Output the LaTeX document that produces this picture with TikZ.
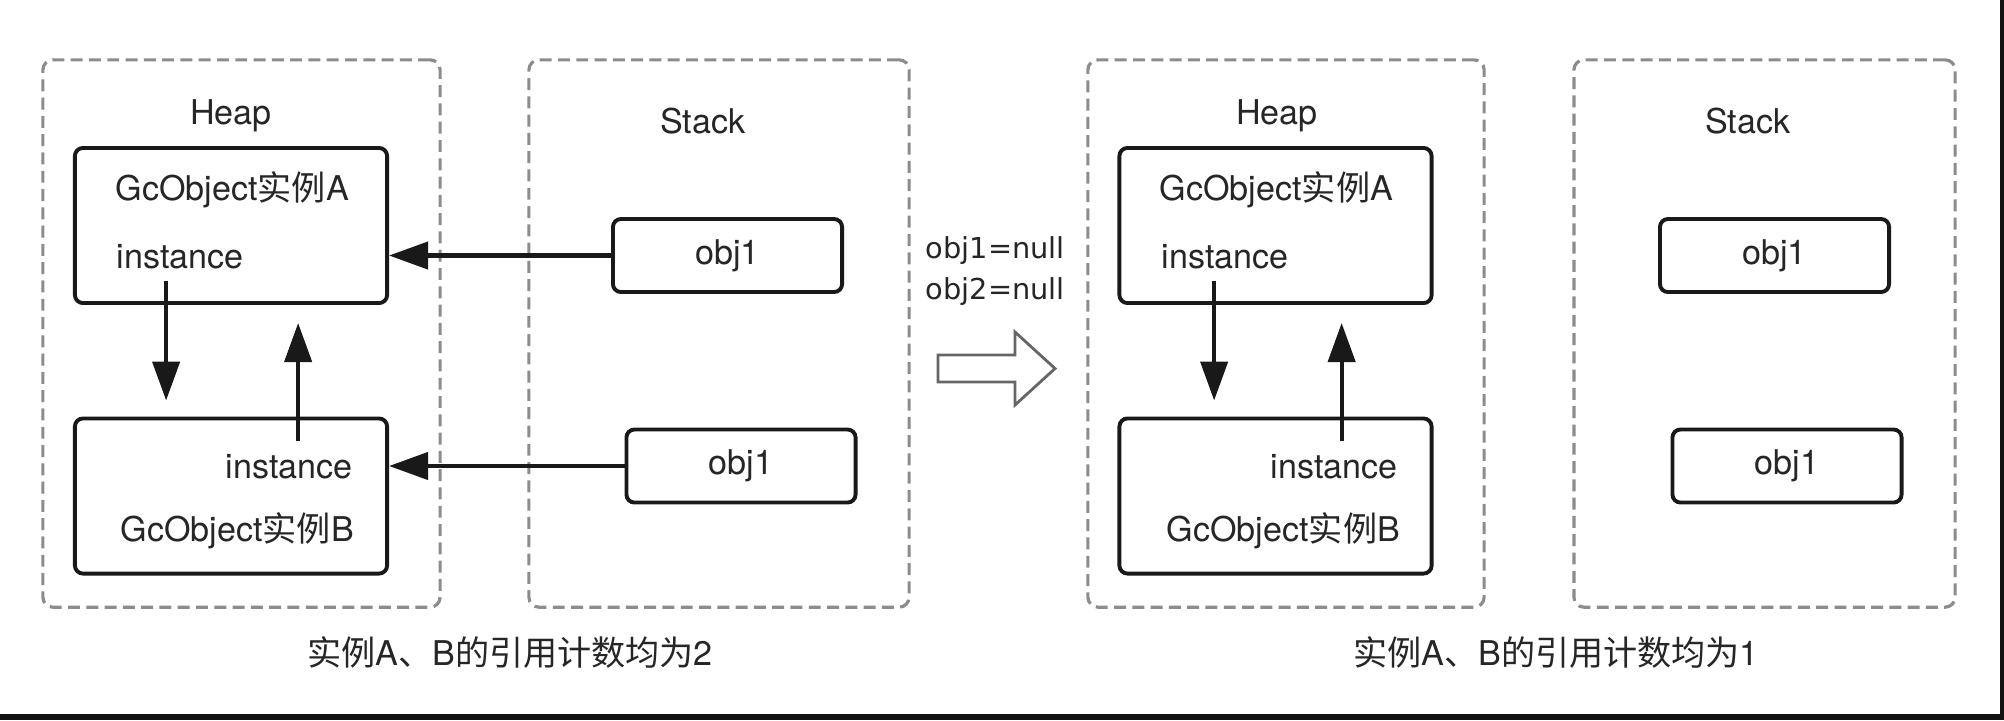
\documentclass[tikz,border=0pt]{standalone}
\usepackage{fontspec}
\setmainfont{TeX Gyre Heros}
\newfontfamily\cjk{Noto Sans CJK SC}
\newfontfamily\codefont{DejaVu Sans}
\usetikzlibrary{arrows.meta}

\tikzset{
    area/.style={draw=black!45, dash pattern=on 3.4pt off 1.8pt, line width=0.9pt,
        rounded corners=0.1cm, inner sep=0, minimum height=5.47cm},
    object/.style={draw=black!90, line width=1.1pt, rounded corners=0.08cm,
        inner sep=0, minimum width=3.12cm, minimum height=1.55cm},
    slot/.style={draw=black!90, line width=1.1pt, rounded corners=0.08cm,
        minimum width=2.29cm, minimum height=0.73cm, text=black!85,
        font=\fontsize{9.7}{11}\selectfont},
    txt/.style={text=black!85, font=\fontsize{9.7}{11}\selectfont},
    field/.style={txt, anchor=base west, inner xsep=0},
    ref/.style={-{Triangle[length=0.39cm,width=0.27cm]}, line width=1.2pt, draw=black!90}
}

\begin{document}
\begin{tikzpicture}[x=0.01cm, y=-0.01cm]
\useasboundingbox (0,0) rectangle (2004,720);
\fill[white] (0,0) rectangle (2004,720);
\fill[black!93] (0,714) rectangle (2004,720);
\fill[black!93] (2000,0) rectangle (2004,720);

% before
\node[area, minimum width=3.97cm] (heapL) at (241.5,333.5) {};
\node[area, minimum width=3.80cm] (stackL) at (719,333.5) {};
\node[txt, anchor=base] (heapLabelL) at (231,124) {Heap};
\node[txt, anchor=base] (stackLabelL) at (703,133) {Stack};

\node[object] (boxAL) at (231,225.5) {};
\node[object] (boxBL) at (231,496) {};
\node[field, inner sep=0] (titleAL) at (115,200) {GcObject{\cjk 实例}A};
\node[field] (instAL) at (116,268) {instance};
\node[field] (instBL) at (225,478) {instance};
\node[field, inner sep=0] (titleBL) at (120,541) {GcObject{\cjk 实例}B};

\node[slot] (obj1L) at (727.5,255.5) {obj1};
\node[slot] (obj2L) at (741,466) {obj1};

\draw[ref, shorten >=0.16cm] ([xshift=-0.14cm]instAL.south) -- ([xshift=-0.14cm]instAL.south |- boxBL.north);
\draw[ref, shorten >=0.18cm] ([xshift=0.09cm]instBL.north) -- ([xshift=0.09cm]instBL.north |- boxAL.south);
\draw[ref] (obj1L.west) -- (obj1L.west -| boxAL.east);
\draw[ref] (obj2L.west) -- (obj2L.west -| boxBL.east);

\node[txt] (countL) at (510,652) {{\cjk 实例}A{\cjk 、}B{\cjk 的引用计数均为}2};

% step
\node[anchor=base west, inner sep=0, font=\codefont\fontsize{8.2}{10}\selectfont, text=black!85]
    (null1) at (925,258) {obj1=null};
\node[anchor=base west, inner sep=0, font=\codefont\fontsize{8.2}{10}\selectfont, text=black!85]
    (null2) at (925,299) {obj2=null};
\draw[black!60, line width=0.8pt, line join=miter]
    (938,355) -- (1015,355) -- (1015,332) -- (1055,368.5) -- (1015,405) -- (1015,382) -- (938,382) -- cycle;

% after
\node[area, minimum width=3.96cm] (heapR) at (1286,333.5) {};
\node[area, minimum width=3.81cm] (stackR) at (1764.5,333.5) {};
\node[txt, anchor=base] (heapLabelR) at (1277,124) {Heap};
\node[txt, anchor=base] (stackLabelR) at (1748,133) {Stack};

\node[object] (boxAR) at (1275.5,225.5) {};
\node[object] (boxBR) at (1275.5,496) {};
\node[field, inner sep=0] (titleAR) at (1159,200) {GcObject{\cjk 实例}A};
\node[field] (instAR) at (1161,268) {instance};
\node[field] (instBR) at (1270,478) {instance};
\node[field, inner sep=0] (titleBR) at (1166,541) {GcObject{\cjk 实例}B};

\node[slot] (obj1R) at (1774.5,255.5) {obj1};
\node[slot] (obj2R) at (1787,466) {obj1};

\draw[ref, shorten >=0.16cm] ([xshift=-0.11cm]instAR.south) -- ([xshift=-0.11cm]instAR.south |- boxBR.north);
\draw[ref, shorten >=0.18cm] ([xshift=0.075cm]instBR.north) -- ([xshift=0.075cm]instBR.north |- boxAR.south);

\node[txt] (countR) at (1556,652) {{\cjk 实例}A{\cjk 、}B{\cjk 的引用计数均为}1};
\end{tikzpicture}
\end{document}
